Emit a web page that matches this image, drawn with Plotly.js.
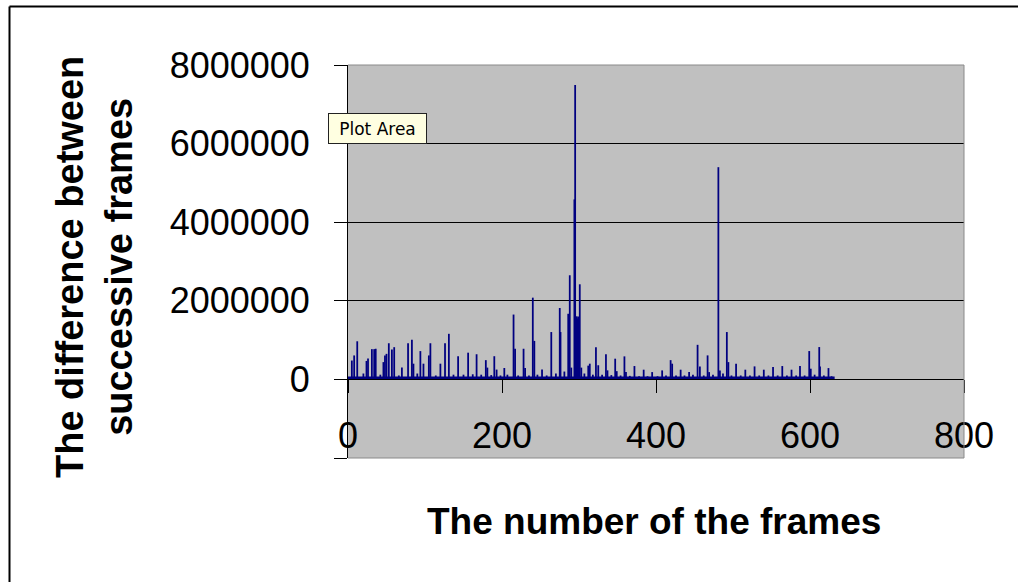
<!DOCTYPE html>
<html>
<head>
<meta charset="utf-8">
<script src="https://cdn.plot.ly/plotly-3.0.1.min.js"></script>
<style>
  html, body { margin: 0; padding: 0; background: #ffffff; }
  #chart { width: 1018px; height: 582px; }
</style>
</head>
<body>
<div id="chart"></div>
<script>
// Frame numbers that show a visible difference spike
const frames = [5, 8, 12, 20, 24, 26, 31, 34, 36, 42, 46, 48, 50, 53, 57, 60, 66, 70, 78, 83,
  85, 90, 94, 98, 105, 107, 114, 120, 126, 131, 137, 143, 150, 156, 162, 167, 173, 179, 181, 186,
  190, 193, 198, 203, 207, 215, 217, 221, 228, 230, 235, 240, 242, 246, 252, 258, 264, 270, 275, 276,
  281, 286, 288, 290, 294, 295, 296, 297, 298, 299, 301, 303, 307, 312, 314, 318, 322, 325, 330, 335,
  337, 342, 347, 349, 354, 359, 361, 366, 372, 378, 384, 389, 395, 402, 408, 413, 419, 421, 426, 432,
  437, 443, 448, 454, 457, 462, 467, 469, 474, 481, 483, 487, 492, 494, 498, 504, 510, 516, 522, 528,
  534, 540, 546, 552, 558, 564, 570, 576, 582, 587, 593, 599, 601, 606, 612, 613, 618, 624, 628];
// Difference between successive frames at those frame numbers
const diffs = [480000, 610000, 970000, 150000, 470000, 530000, 770000, 770000, 780000, 120000,
  440000, 610000, 650000, 920000, 760000, 820000, 100000, 300000, 920000, 1010000,
  400000, 150000, 720000, 400000, 610000, 920000, 100000, 400000, 920000, 1160000,
  120000, 590000, 120000, 680000, 130000, 640000, 120000, 490000, 300000, 110000,
  590000, 250000, 100000, 290000, 120000, 1650000, 780000, 100000, 780000, 290000,
  100000, 2080000, 980000, 120000, 250000, 100000, 1205000, 150000, 1817000, 1205000,
  200000, 1670000, 2650000, 300000, 4580000, 7490000, 1600000, 1600000, 1550000, 1600000,
  2420000, 300000, 150000, 350000, 400000, 120000, 820000, 360000, 120000, 637000,
  230000, 110000, 527000, 210000, 100000, 586000, 186000, 90000, 340000, 80000,
  247000, 80000, 186000, 80000, 229000, 100000, 490000, 400000, 100000, 247000,
  100000, 186000, 120000, 880000, 331000, 100000, 611000, 186000, 120000, 5400000,
  229000, 150000, 1205000, 440000, 100000, 400000, 100000, 247000, 100000, 331000,
  100000, 247000, 100000, 313000, 100000, 340000, 100000, 247000, 100000, 340000,
  100000, 721000, 272000, 120000, 823000, 331000, 100000, 288000, 80000];
// Low background level of the difference over the whole clip
const baseFrames = [0, 632];
const baseDiff = [75000, 75000];

// Axis ticks
const xTicks = [0, 200, 400, 600, 800];
const yTicks = [-2000000, 0, 2000000, 4000000, 6000000, 8000000];
const yTickText = ['', '0', '2000000', '4000000', '6000000', '8000000'];

const navy = '#000080';
const tickFont = { family: 'Liberation Sans, Arial, sans-serif', size: 36, color: '#000000' };
const titleFont = { family: 'Liberation Sans, Arial, sans-serif', size: 37, color: '#000000' };
const yTitleFont = { family: 'Liberation Sans, Arial, sans-serif', size: 38, color: '#000000' };

const traces = [
  {
    type: 'scatter', mode: 'lines', x: baseFrames, y: baseDiff,
    fill: 'tozeroy', fillcolor: navy, line: { width: 0, color: navy },
    hoverinfo: 'skip', showlegend: false
  },
  {
    type: 'bar', x: frames, y: diffs, width: 2.3,
    marker: { color: navy, line: { width: 0 } },
    hoverinfo: 'skip', showlegend: false
  }
];

// pixel -> paper helpers for decorations (plot area 348..964 x 65..458)
const L = 348, R = 54, T = 65, B = 124, W = 1018, H = 582;
const pw = W - L - R, ph = H - T - B;
const px = v => (v - L) / pw;
const py = v => (H - B - v) / ph;

const layout = {
  width: W, height: H,
  margin: { l: L, r: R, t: T, b: B, pad: 0 },
  paper_bgcolor: '#ffffff',
  plot_bgcolor: '#c0c0c0',
  showlegend: false,
  hovermode: false,
  xaxis: {
    range: [0, 800], tickvals: xTicks, ticktext: xTicks.map(String),
    anchor: 'free', position: 0.2,
    showline: true, linecolor: '#000000', linewidth: 1,
    ticks: 'outside', ticklen: 13, tickcolor: '#000000', tickwidth: 1,
    ticklabelstandoff: 11,
    showgrid: false, zeroline: false, tickfont: tickFont
  },
  yaxis: {
    range: [-2000000, 8000000], tickvals: yTicks, ticktext: yTickText,
    showline: true, linecolor: '#000000', linewidth: 1,
    ticks: 'outside', ticklen: 13, tickcolor: '#000000', tickwidth: 1,
    ticklabelstandoff: 17,
    showgrid: true, gridcolor: '#000000', gridwidth: 1,
    zeroline: false, tickfont: tickFont
  },
  shapes: [
    // plot area border (grey) on top, right, bottom
    { type: 'line', xref: 'paper', yref: 'paper', x0: 0, x1: 1, y0: 1, y1: 1, line: { color: '#8a8a8a', width: 1 }, layer: 'above' },
    { type: 'line', xref: 'paper', yref: 'paper', x0: 1, x1: 1, y0: 0, y1: 1, line: { color: '#8a8a8a', width: 1 }, layer: 'above' },
    { type: 'line', xref: 'paper', yref: 'paper', x0: 0, x1: 1, y0: 0, y1: 0, line: { color: '#8a8a8a', width: 1 }, layer: 'above' },
    // outer chart frame
    { type: 'line', xref: 'paper', yref: 'paper', x0: px(9.5), x1: px(1030), y0: py(6.5), y1: py(6.5), line: { color: '#000000', width: 2 }, layer: 'above' },
    { type: 'line', xref: 'paper', yref: 'paper', x0: px(9.5), x1: px(9.5), y0: py(6.5), y1: py(600), line: { color: '#000000', width: 2 }, layer: 'above' }
  ],
  annotations: [
    {
      text: '<b>The difference between<br>successive frames</b>',
      xref: 'paper', yref: 'paper', x: px(94), y: py(267),
      xanchor: 'center', yanchor: 'middle', textangle: -90,
      showarrow: false, font: yTitleFont
    },
    {
      text: '<b>The number of the frames</b>',
      xref: 'paper', yref: 'paper', x: px(654), y: py(521),
      xanchor: 'center', yanchor: 'middle',
      showarrow: false, font: titleFont
    },
    {
      text: 'Plot Area',
      xref: 'paper', yref: 'paper', x: px(377.5), y: py(128),
      xanchor: 'center', yanchor: 'middle',
      width: 95, height: 27, borderpad: 1,
      bgcolor: '#ffffe1', bordercolor: '#222222', borderwidth: 1,
      showarrow: false,
      font: { family: 'DejaVu Sans, sans-serif', size: 17, color: '#000000' }
    }
  ]
};

Plotly.newPlot('chart', traces, layout, { staticPlot: true, displayModeBar: false });
</script>
</body>
</html>
